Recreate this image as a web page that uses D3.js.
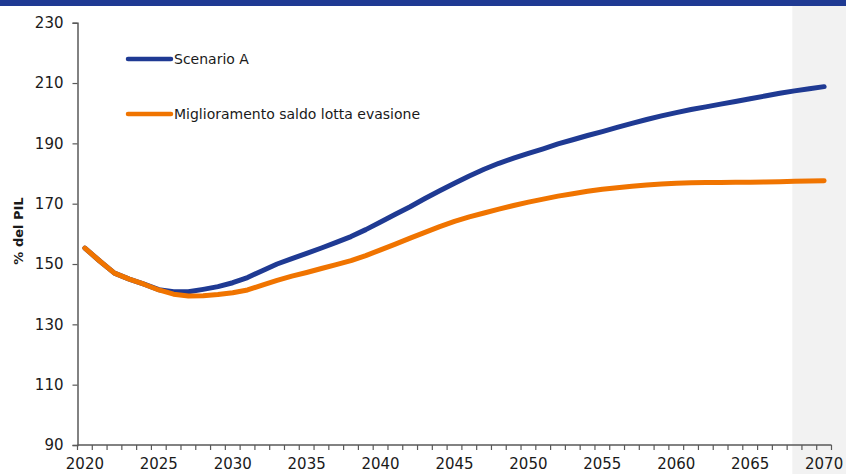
<!DOCTYPE html>
<html>
<head>
<meta charset="utf-8">
<script src="https://cdn.jsdelivr.net/npm/d3@7"></script>
<style>
  html, body { margin: 0; padding: 0; background: #ffffff; }
  svg { display: block; }
  text { font-family: "DejaVu Sans", sans-serif; fill: #1a1a1a; }
</style>
</head>
<body>
<svg id="chart" width="846" height="474"></svg>
<script>
// Debito pubblico in % del PIL, 2020-2070
const years = d3.range(2020, 2071);

const scenarioA = [
  155.3, 151.0, 147.0, 145.0, 143.3, 141.5, 140.8, 140.8, 141.6, 142.5,
  143.8, 145.5, 147.8, 150.0, 151.8, 153.5, 155.3, 157.2, 159.1, 161.4,
  163.9, 166.5, 169.0, 171.7, 174.3, 176.8, 179.2, 181.4, 183.4, 185.1,
  186.7, 188.2, 189.8, 191.2, 192.6, 193.9, 195.3, 196.6, 197.9, 199.1,
  200.2, 201.2, 202.1, 203.0, 203.9, 204.8, 205.7, 206.6, 207.4, 208.1,
  208.8
];

const miglioramento = [
  155.3, 151.0, 147.0, 145.0, 143.3, 141.4, 140.0, 139.4, 139.5, 139.9,
  140.5, 141.4, 143.0, 144.6, 146.0, 147.2, 148.5, 149.8, 151.1, 152.8,
  154.7, 156.6, 158.6, 160.5, 162.4, 164.1, 165.6, 166.9, 168.2, 169.4,
  170.5, 171.5, 172.5, 173.3, 174.1, 174.8, 175.3, 175.8, 176.2, 176.5,
  176.8, 176.9, 177.0, 177.0, 177.1, 177.1, 177.2, 177.3, 177.4, 177.5,
  177.6
];

const yTicks = [90, 110, 130, 150, 170, 190, 210, 230];
const xLabelYears = [2020, 2025, 2030, 2035, 2040, 2045, 2050, 2055, 2060, 2065, 2070];
const seriesNames = ["Scenario A", "Miglioramento saldo lotta evasione"];
const seriesColors = ["#1f3a93", "#f07400"];
const shadedFrom = 2068;

const W = 846, H = 474;
const svg = d3.select("#chart");

const x = d3.scaleBand().domain(years).range([77.5, 831.5]).padding(0);
const xc = d => x(d) + x.bandwidth() / 2;
const y = d3.scaleLinear().domain([90, 230]).range([445, 22.7]);

// shaded projection period on the right
const shadeX = x(shadedFrom) + x.bandwidth() * 0.35;
svg.append("rect")
  .attr("x", shadeX)
  .attr("y", 6)
  .attr("width", W - shadeX)
  .attr("height", H - 6)
  .attr("fill", "#f2f2f2");

// top band
svg.append("rect")
  .attr("x", 0).attr("y", 0)
  .attr("width", W).attr("height", 6)
  .attr("fill", "#1f3a93");

// y axis
const yAxis = svg.append("g")
  .attr("transform", `translate(${x.range()[0]},0)`)
  .call(d3.axisLeft(y).tickValues(yTicks).tickSize(5).tickPadding(9).tickFormat(d3.format("d")));
yAxis.select(".domain").attr("stroke", "#595959").attr("stroke-width", 1.5);
yAxis.selectAll(".tick line").attr("stroke", "#595959").attr("stroke-width", 1.2);
yAxis.selectAll(".tick text")
  .style("font-family", "'DejaVu Sans', sans-serif")
  .style("font-size", "15px")
  .attr("fill", "#1a1a1a");

// x axis: tick marks at category boundaries, labels every five years
const boundaries = years.map(d => x(d)).concat([x.range()[1]]);
const xAxisG = svg.append("g");
xAxisG.append("line")
  .attr("x1", x.range()[0]).attr("x2", x.range()[1])
  .attr("y1", y(90)).attr("y2", y(90))
  .attr("stroke", "#595959").attr("stroke-width", 1.5);
xAxisG.selectAll("line.tk")
  .data(boundaries)
  .join("line")
  .attr("class", "tk")
  .attr("x1", d => d).attr("x2", d => d)
  .attr("y1", y(90)).attr("y2", y(90) + 5)
  .attr("stroke", "#595959").attr("stroke-width", 1.2);
xAxisG.selectAll("text")
  .data(xLabelYears)
  .join("text")
  .attr("x", d => xc(d))
  .attr("y", 469)
  .attr("text-anchor", "middle")
  .style("font-size", "15px")
  .text(d => d);

// y axis title
svg.append("text")
  .attr("transform", `translate(23,231) rotate(-90)`)
  .attr("text-anchor", "middle")
  .style("font-size", "13px")
  .style("font-weight", "bold")
  .text("% del PIL");

// lines
const line = d3.line()
  .x((d, i) => xc(years[i]))
  .y(d => y(d));

[scenarioA, miglioramento].forEach((s, i) => {
  svg.append("path")
    .datum(s)
    .attr("d", line)
    .attr("fill", "none")
    .attr("stroke", seriesColors[i])
    .attr("stroke-width", 5)
    .attr("stroke-linecap", "round")
    .attr("stroke-linejoin", "round");
});

// legend
const legendY = [59, 114];
seriesNames.forEach((name, i) => {
  const g = svg.append("g").attr("transform", `translate(0,${legendY[i]})`);
  g.append("line")
    .attr("x1", 128).attr("x2", 171)
    .attr("y1", 0).attr("y2", 0)
    .attr("stroke", seriesColors[i])
    .attr("stroke-width", 4.5)
    .attr("stroke-linecap", "round");
  g.append("text")
    .attr("x", 174)
    .attr("y", 5)
    .style("font-size", "14px")
    .text(name);
});
</script>
</body>
</html>
